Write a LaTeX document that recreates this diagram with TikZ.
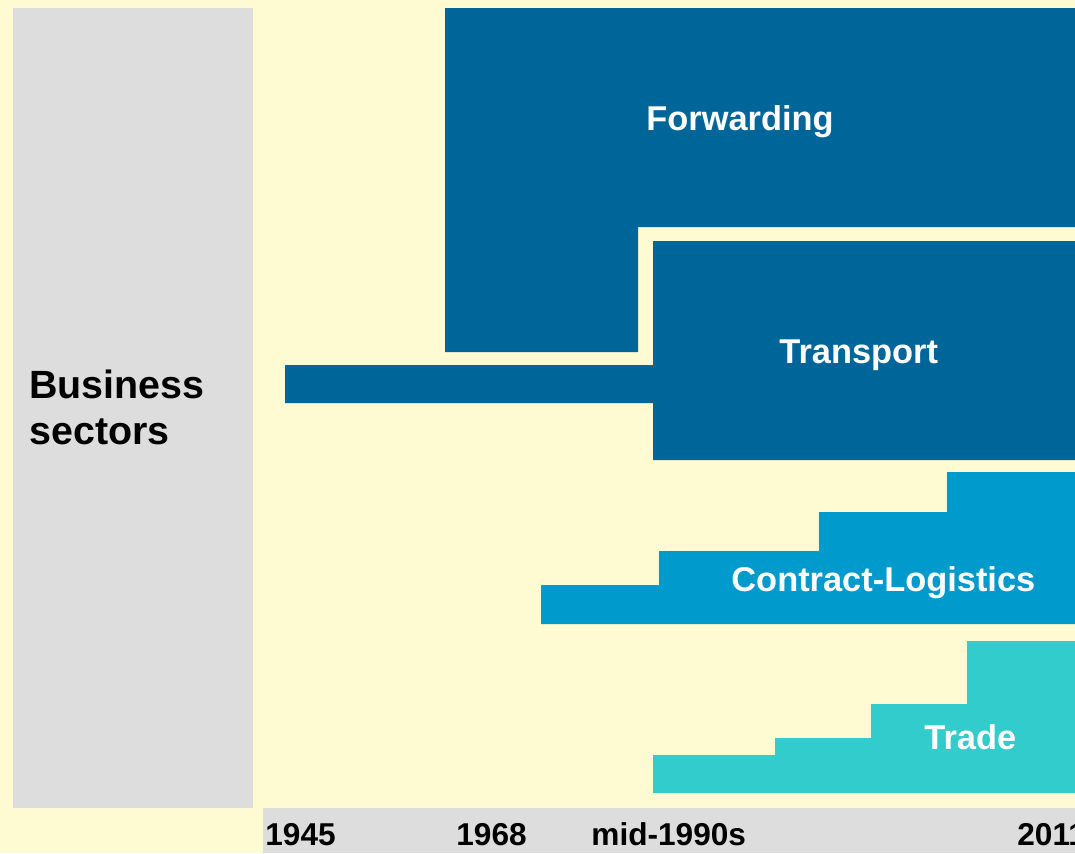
\documentclass[tikz,border=0pt]{standalone}
\usepackage{fontspec}
\setmainfont{Liberation Sans}
\usetikzlibrary{positioning}

\definecolor{cream}{HTML}{FEFAD2}
\definecolor{panelgray}{HTML}{DDDDDD}
\definecolor{darkblue}{HTML}{006699}
\definecolor{midblue}{HTML}{009ACC}
\definecolor{teal}{HTML}{33CCCC}

\begin{document}
\begin{tikzpicture}[
			x=0.5pt, y=-0.5pt,
			sector/.style={white, font=\fontsize{17.2}{20}\selectfont\bfseries, inner sep=0pt, anchor=base west},
			year/.style={black, font=\fontsize{15.8}{18}\selectfont\bfseries, inner sep=0pt, anchor=base west},
			side/.style={black, font=\fontsize{19.7}{23}\selectfont\bfseries, inner sep=0pt, anchor=base west, align=left}
			]
			% Background
			\clip (0,0) rectangle (1075,853);
			\fill[cream] (0,0) rectangle (1075,853);
			\fill[panelgray] (13,8) rectangle (253,808);
			\fill[panelgray] (263,808) rectangle (1075,853);
			
			% Business sectors
			\fill[darkblue] (445,8) -- (1075,8) -- (1075,227) -- (638,227) -- (638,352) -- (445,352) -- cycle;
			\fill[darkblue] (653,241) -- (1075,241) -- (1075,460) -- (653,460) -- (653,403) -- (285,403) -- (285,365) -- (653,365) -- cycle;
			\fill[midblue] (541,624) -- (541,585) -- (659,585) -- (659,551) -- (819,551) -- (819,512) -- (947,512) -- (947,472) -- (1075,472) -- (1075,624) -- cycle;
			\fill[teal] (653,793) -- (653,755) -- (775,755) -- (775,738) -- (871,738) -- (871,704) -- (967,704) -- (967,641) -- (1075,641) -- (1075,793) -- cycle;
			
			% Labels
			\node[sector] (forwarding) at (646,130) {Forwarding};
			\node[sector] (transport) at (779,363) {Transport};
			\node[sector] (contract) at (731,591) {Contract-Logistics};
			\node[sector] (trade) at (924,749) {Trade};
			\node[side] (business) at (29,444) {Business\\sectors};
			
			% Timeline
			\node[year] (y1945) at (265,845) {1945};
			\node[year] (y1968) at (456,845) {1968};
			\node[year] (y1990) at (591,845) {mid-1990s};
			\node[year] (y2011) at (1017,845) {2011};
		\end{tikzpicture}
\end{document}
